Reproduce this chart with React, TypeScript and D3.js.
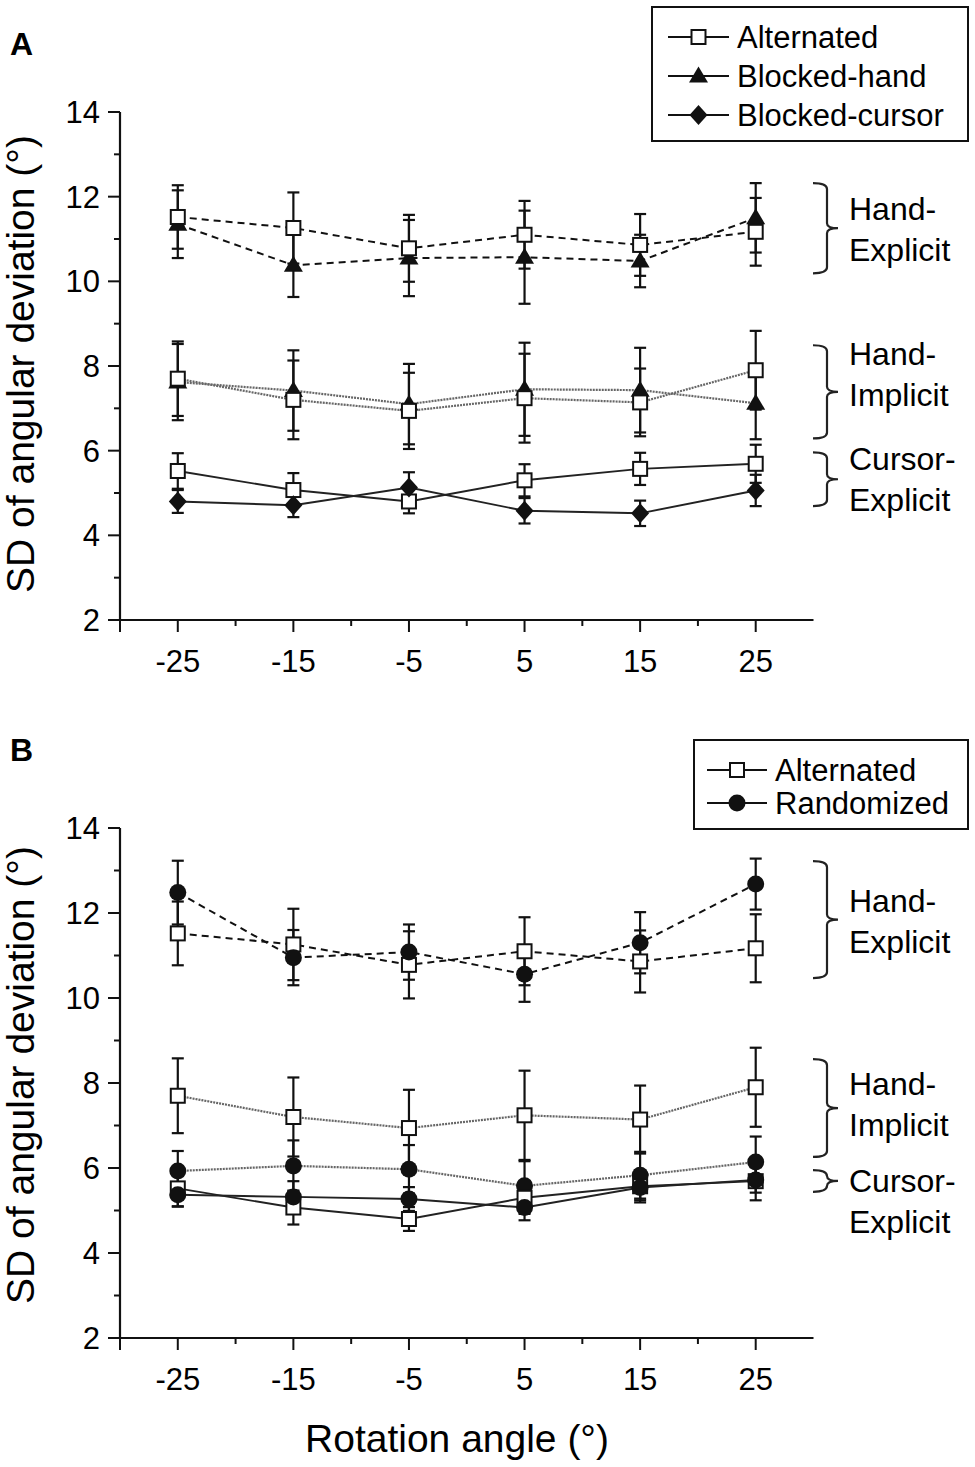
import React from 'react';
import * as d3 from 'd3';

// x values (rotation angle, deg)
const angles = [-25, -15, -5, 5, 15, 25];
const xMajor = [-30, -25, -15, -5, 5, 15, 25];
const xLabels = [-25, -15, -5, 5, 15, 25];
const xMinor = [-20, -10, 0, 10, 20];
const yMajor = [2, 4, 6, 8, 10, 12, 14];
const yMinor = [3, 5, 7, 9, 11, 13];

// Alternated group (shown in both panels)
const altHandExplicit = [11.52, 11.26, 10.78, 11.1, 10.86, 11.17];
const altHandExplicitErr = [0.75, 0.84, 0.79, 0.8, 0.73, 0.8];
const altHandImplicit = [7.7, 7.2, 6.94, 7.24, 7.14, 7.9];
const altHandImplicitErr = [0.88, 0.93, 0.9, 1.05, 0.8, 0.93];
const altCursorExplicit = [5.52, 5.07, 4.8, 5.3, 5.57, 5.69];
const altCursorExplicitErr = [0.42, 0.4, 0.28, 0.38, 0.38, 0.45];

// Blocked groups (panel A)
const blkHandExplicit = [11.35, 10.38, 10.55, 10.57, 10.48, 11.5];
const blkHandExplicitErr = [0.8, 0.75, 0.9, 1.1, 0.62, 0.82];
const blkHandImplicit = [7.62, 7.42, 7.1, 7.45, 7.43, 7.12];
const blkHandImplicitErr = [0.9, 0.95, 0.95, 1.1, 1.0, 0.85];
const blkCursorExplicit = [4.8, 4.71, 5.13, 4.58, 4.52, 5.06];
const blkCursorExplicitErr = [0.27, 0.28, 0.36, 0.3, 0.3, 0.37];

// Randomized group (panel B)
const rndHandExplicit = [12.48, 10.95, 11.08, 10.56, 11.3, 12.68];
const rndHandExplicitErr = [0.75, 0.65, 0.65, 0.65, 0.72, 0.6];
const rndHandImplicit = [5.93, 6.05, 5.97, 5.58, 5.83, 6.14];
const rndHandImplicitErr = [0.47, 0.6, 0.57, 0.58, 0.55, 0.6];
const rndCursorExplicit = [5.37, 5.32, 5.27, 5.07, 5.54, 5.72];
const rndCursorExplicitErr = [0.28, 0.37, 0.28, 0.3, 0.3, 0.3];

const legendA = ['Alternated', 'Blocked-hand', 'Blocked-cursor'];
const legendB = ['Alternated', 'Randomized'];

type Marker = 'square' | 'triangle' | 'diamond' | 'circle';
type Style = 'dashed' | 'dotted' | 'solid';
interface Series { values: number[]; errs: number[]; marker: Marker; style: Style }
interface Bracket { lo: number; hi: number; text: [string, string]; at: number }

const seriesA: Series[] = [
  { values: blkHandExplicit, errs: blkHandExplicitErr, marker: 'triangle', style: 'dashed' },
  { values: altHandExplicit, errs: altHandExplicitErr, marker: 'square', style: 'dashed' },
  { values: blkHandImplicit, errs: blkHandImplicitErr, marker: 'triangle', style: 'dotted' },
  { values: altHandImplicit, errs: altHandImplicitErr, marker: 'square', style: 'dotted' },
  { values: altCursorExplicit, errs: altCursorExplicitErr, marker: 'square', style: 'solid' },
  { values: blkCursorExplicit, errs: blkCursorExplicitErr, marker: 'diamond', style: 'solid' },
];

const seriesB: Series[] = [
  { values: altHandExplicit, errs: altHandExplicitErr, marker: 'square', style: 'dashed' },
  { values: rndHandExplicit, errs: rndHandExplicitErr, marker: 'circle', style: 'dashed' },
  { values: altHandImplicit, errs: altHandImplicitErr, marker: 'square', style: 'dotted' },
  { values: rndHandImplicit, errs: rndHandImplicitErr, marker: 'circle', style: 'dotted' },
  { values: altCursorExplicit, errs: altCursorExplicitErr, marker: 'square', style: 'solid' },
  { values: rndCursorExplicit, errs: rndCursorExplicitErr, marker: 'circle', style: 'solid' },
];

const bracketsA: Bracket[] = [
  { lo: 10.19, hi: 12.32, text: ['Hand-', 'Explicit'], at: 11.45 },
  { lo: 6.29, hi: 8.49, text: ['Hand-', 'Implicit'], at: 8.02 },
  { lo: 4.69, hi: 5.96, text: ['Cursor-', 'Explicit'], at: 5.54 },
];
const bracketsB: Bracket[] = [
  { lo: 10.47, hi: 13.22, text: ['Hand-', 'Explicit'], at: 12.02 },
  { lo: 6.26, hi: 8.56, text: ['Hand-', 'Implicit'], at: 7.72 },
  { lo: 5.44, hi: 5.95, text: ['Cursor-', 'Explicit'], at: 5.44 },
];

const FONT = '"Liberation Sans", Arial, Helvetica, sans-serif';

const lineStyle: Record<Style, { stroke: string; dash?: string; width: number }> = {
  dashed: { stroke: '#111', dash: '7,5', width: 2 },
  dotted: { stroke: '#666', dash: '2,1', width: 2.2 },
  solid: { stroke: '#222', width: 1.9 },
};

const MarkerShape: React.FC<{ kind: Marker; x: number; y: number }> = ({ kind, x, y }) => {
  if (kind === 'square')
    return <rect x={x - 7} y={y - 7} width={14} height={14} fill="#fff" stroke="#111" strokeWidth={2} />;
  if (kind === 'circle') return <circle cx={x} cy={y} r={8.5} fill="#111" />;
  if (kind === 'triangle')
    return <path d={`M${x},${y - 9.5} L${x + 9.5},${y + 6.5} L${x - 9.5},${y + 6.5} Z`} fill="#111" />;
  return <path d={`M${x},${y - 10} L${x + 9},${y} L${x},${y + 10} L${x - 9},${y} Z`} fill="#111" />;
};

interface PanelProps {
  letter: string;
  letterY: number;
  top: number;
  bottom: number;
  series: Series[];
  legend: string[];
  legendMarkers: Marker[];
  legendBox: [number, number, number, number];
  legendRowH: number;
  legendLine: [number, number];
  brackets: Bracket[];
  labelCenter: number;
}

const Panel: React.FC<PanelProps> = (p) => {
  const x = d3.scaleLinear().domain([-30, 30]).range([120, 813.5]);
  const y = d3.scaleLinear().domain([2, 14]).range([p.bottom, p.top]);
  const line = d3
    .line<number>()
    .x((_, i) => x(angles[i]))
    .y((d) => y(d));
  const [bx, by, bw, bh] = p.legendBox;

  return (
    <g fontFamily={FONT}>
      <text x={10} y={p.letterY} fontSize={32} fontWeight="bold">{p.letter}</text>

      {/* axes */}
      <line x1={x(-30)} x2={x(-30)} y1={y(14)} y2={y(2)} stroke="#111" strokeWidth={2.2} />
      <line x1={x(-30)} x2={x(30)} y1={y(2)} y2={y(2)} stroke="#111" strokeWidth={2.2} />
      {yMajor.map((t) => (
        <g key={'ym' + t}>
          <line x1={x(-30) - 12} x2={x(-30)} y1={y(t)} y2={y(t)} stroke="#111" strokeWidth={2} />
          <text x={100} y={y(t)} dy="0.36em" textAnchor="end" fontSize={31}>{t}</text>
        </g>
      ))}
      {yMinor.map((t) => (
        <line key={'yn' + t} x1={x(-30) - 6} x2={x(-30)} y1={y(t)} y2={y(t)} stroke="#111" strokeWidth={2} />
      ))}
      {xMajor.map((t) => (
        <line key={'xm' + t} x1={x(t)} x2={x(t)} y1={y(2)} y2={y(2) + 12} stroke="#111" strokeWidth={2} />
      ))}
      {xMinor.map((t) => (
        <line key={'xn' + t} x1={x(t)} x2={x(t)} y1={y(2)} y2={y(2) + 6} stroke="#111" strokeWidth={2} />
      ))}
      {xLabels.map((t) => (
        <text key={'xl' + t} x={x(t)} y={y(2) + 52} textAnchor="middle" fontSize={31}>{t}</text>
      ))}
      <text
        transform={`translate(34,${p.labelCenter}) rotate(-90)`}
        textAnchor="middle"
        fontSize={39}
      >
        SD of angular deviation (°)
      </text>

      {/* series lines */}
      {p.series.map((s, i) => {
        const st = lineStyle[s.style];
        return (
          <path key={'l' + i} d={line(s.values) ?? ''} fill="none" stroke={st.stroke}
            strokeWidth={st.width} strokeDasharray={st.dash} />
        );
      })}
      {/* error bars */}
      {p.series.map((s, i) =>
        s.values.map((v, j) => {
          const cx = x(angles[j]);
          const y1 = y(v + s.errs[j]);
          const y2 = y(v - s.errs[j]);
          return (
            <g key={`e${i}-${j}`} stroke="#111" strokeWidth={2.2}>
              <line x1={cx} x2={cx} y1={y1} y2={y2} />
              <line x1={cx - 6} x2={cx + 6} y1={y1} y2={y1} />
              <line x1={cx - 6} x2={cx + 6} y1={y2} y2={y2} />
            </g>
          );
        })
      )}
      {/* markers */}
      {p.series.map((s, i) =>
        s.values.map((v, j) => <MarkerShape key={`m${i}-${j}`} kind={s.marker} x={x(angles[j])} y={y(v)} />)
      )}

      {/* brackets */}
      {p.brackets.map((b, i) => {
        const t = y(b.hi);
        const bt = y(b.lo);
        const m = (t + bt) / 2;
        const x0 = 813;
        const x1 = 827;
        const x2 = 838;
        const d = `M${x0},${t} Q${x1},${t} ${x1},${t + 6} L${x1},${m - 5} Q${x1},${m} ${x2},${m} ` +
          `Q${x1},${m} ${x1},${m + 5} L${x1},${bt - 6} Q${x1},${bt} ${x0},${bt}`;
        return (
          <g key={'b' + i}>
            <path d={d} fill="none" stroke="#222" strokeWidth={2.2} />
            <text x={849} y={y(b.at)} fontSize={32}>{b.text[0]}</text>
            <text x={849} y={y(b.at) + 41} fontSize={32}>{b.text[1]}</text>
          </g>
        );
      })}

      {/* legend */}
      <rect x={bx} y={by} width={bw} height={bh} fill="#fff" stroke="#111" strokeWidth={2} />
      {p.legend.map((name, i) => {
        const ry = by + 30 + i * p.legendRowH;
        const [lx0, lx1] = p.legendLine;
        return (
          <g key={'lg' + i}>
            <line x1={lx0} x2={lx1} y1={ry} y2={ry} stroke="#111" strokeWidth={1.8} />
            <MarkerShape kind={p.legendMarkers[i]} x={(lx0 + lx1) / 2} y={ry} />
            <text x={lx1 + 8} y={ry} dy="0.35em" fontSize={31}>{name}</text>
          </g>
        );
      })}
    </g>
  );
};

const App: React.FC = () => (
  <svg width={975} height={1467} style={{ position: 'absolute', left: 0, top: 0, background: '#fff' }}>
    <rect width={975} height={1467} fill="#fff" />
    <Panel
      letter="A"
      letterY={55}
      top={112}
      bottom={620}
      series={seriesA}
      legend={legendA}
      legendMarkers={['square', 'triangle', 'diamond']}
      legendBox={[652, 7, 316, 134]}
      legendRowH={39}
      legendLine={[668, 729]}
      brackets={bracketsA}
      labelCenter={364}
    />
    <Panel
      letter="B"
      letterY={761}
      top={828}
      bottom={1338}
      series={seriesB}
      legend={legendB}
      legendMarkers={['square', 'circle']}
      legendBox={[694, 740, 274, 89]}
      legendRowH={33}
      legendLine={[707, 767]}
      brackets={bracketsB}
      labelCenter={1075}
    />
    <text x={457} y={1452} textAnchor="middle" fontSize={39} fontFamily={FONT}>
      Rotation angle (°)
    </text>
  </svg>
);

export default App;
